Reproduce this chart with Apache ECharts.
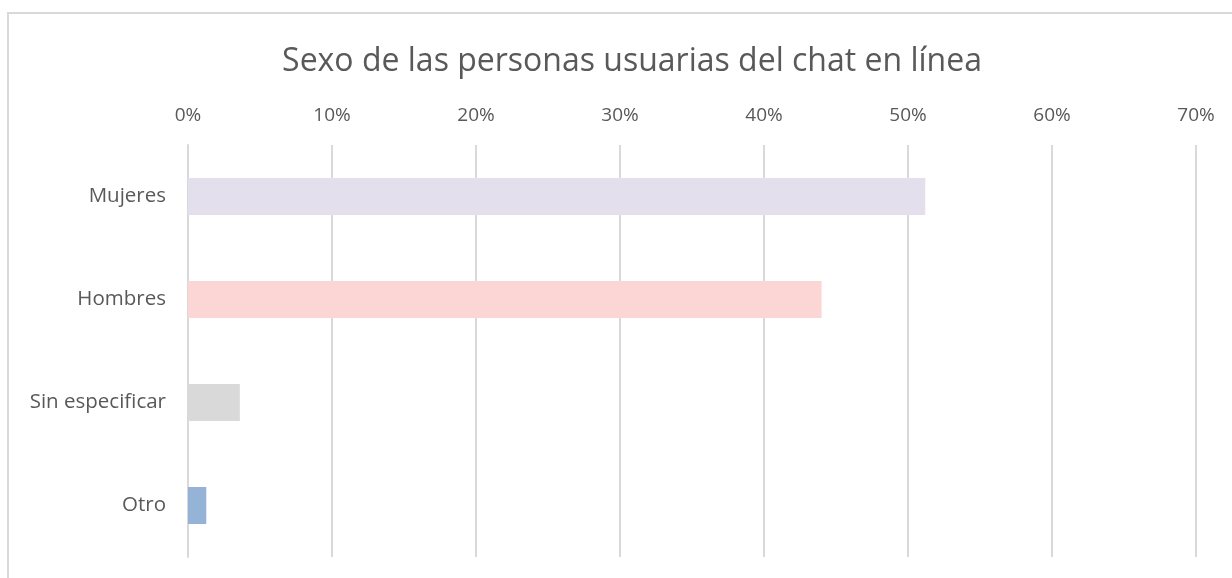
<!DOCTYPE html>
<html>
<head>
<meta charset="utf-8">
<script src="https://cdn.jsdelivr.net/npm/echarts@6/dist/echarts.min.js"></script>
<style>
html,body{margin:0;padding:0;background:#fff;}
#c{width:1232px;height:578px;}
</style>
</head>
<body>
<div id="c"></div>
<script>
const categories = ["Mujeres", "Hombres", "Sin especificar", "Otro"];
const values = [0.512, 0.440, 0.036, 0.0127];
const colors = ["#E4DFEC", "#FCD5D5", "#D9D9D9", "#95B3D7"];
const titleText = "Sexo de las personas usuarias del chat en línea";

const chart = echarts.init(document.getElementById('c'), null, {renderer: 'canvas'});
chart.setOption({
  animation: false,
  backgroundColor: '#ffffff',
  title: {
    text: titleText,
    left: 627, textAlign: 'center', top: 41,
    textStyle: {fontFamily: 'Open Sans', fontSize: 32, fontWeight: 'normal', color: '#595959'}
  },
  graphic: [{
    type: 'rect', shape: {x: 8, y: 13, width: 1240, height: 600},
    style: {fill: 'none', stroke: '#D9D9D9', lineWidth: 2}, silent: true, z: -1
  }],
  grid: {left: 188, right: 36, top: 145, bottom: 21, containLabel: false},
  xAxis: {
    type: 'value', position: 'top', min: 0, max: 0.7, interval: 0.1,
    axisLine: {show: false}, axisTick: {show: false},
    splitLine: {lineStyle: {color: '#D9D9D9', width: 2}},
    axisLabel: {
      margin: 20,
      formatter: v => Math.round(v * 100) + '%',
      fontFamily: 'Open Sans', fontSize: 19, color: '#595959'
    }
  },
  yAxis: {
    type: 'category', data: categories, inverse: true,
    axisLine: {show: true, lineStyle: {color: '#D9D9D9', width: 2}},
    axisTick: {show: false},
    axisLabel: {margin: 22, fontFamily: 'Open Sans', fontSize: 20.5, color: '#595959'}
  },
  series: [{
    type: 'bar', barWidth: 37,
    data: values.map((v, i) => ({value: v, itemStyle: {color: colors[i]}}))
  }]
});
</script>
</body>
</html>
